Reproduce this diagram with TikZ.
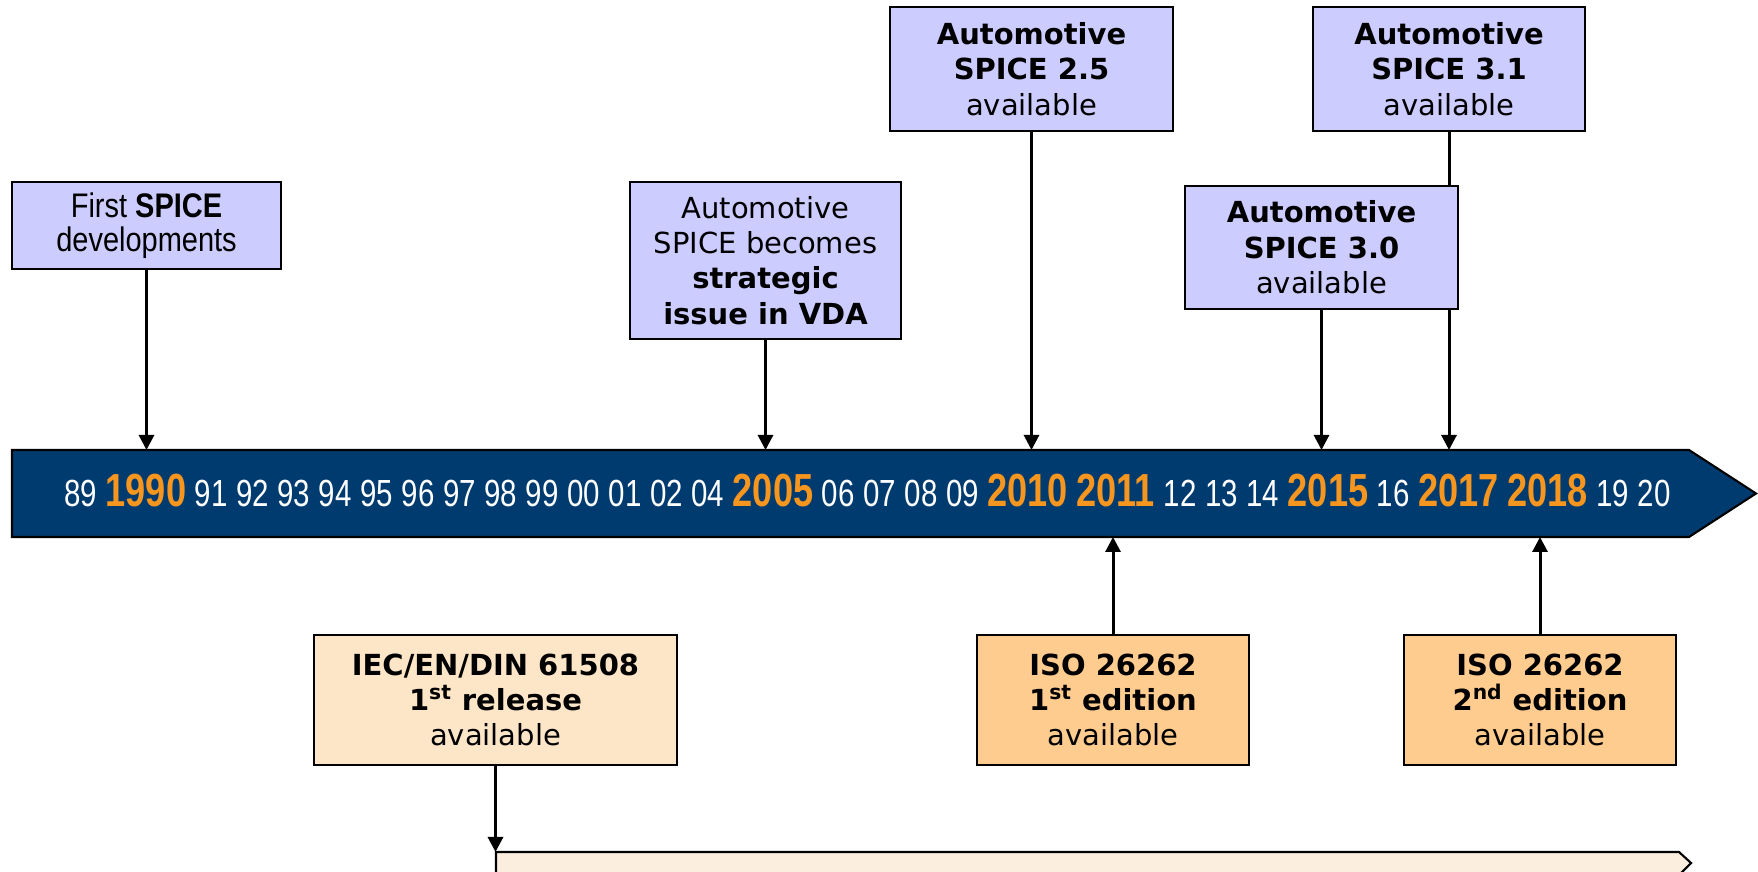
\documentclass[tikz,border=0pt]{standalone}
\usepackage{fontspec}
\setmainfont{DejaVu Sans}
\newfontfamily\arialfont[FakeStretch=0.85]{Liberation Sans}
\newfontfamily\yearfont[FakeStretch=0.78]{Liberation Sans}
\usetikzlibrary{arrows.meta}
\usetikzlibrary{positioning}

\definecolor{barblue}{RGB}{0,59,112}
\definecolor{yearorange}{RGB}{247,150,30}
\definecolor{spicebox}{RGB}{204,204,255}
\definecolor{isobox}{RGB}{255,204,144}
\definecolor{iecbox}{RGB}{253,229,200}
\definecolor{safetybar}{RGB}{252,238,223}

\tikzset{
	event/.style={draw=black, line width=1.4pt, align=center, inner sep=2pt, font=\fontsize{16.5}{20.1}\selectfont},
	spice/.style={event, fill=spicebox},
	iso/.style={event, fill=isobox},
	link/.style={line width=1.7pt, -{Triangle[length=0.3cm, width=0.3cm]}},
	yrsmall/.style={inner sep=0pt, text=white, font=\yearfont\fontsize{21.5}{22}\selectfont},
	yrbig/.style={inner sep=0pt, text=yearorange, font=\yearfont\bfseries\fontsize{26.4}{27}\selectfont},
}

\begin{document}
\begin{tikzpicture}[]
	\useasboundingbox (0,0) rectangle (35.16,17.44);

	% timeline bar
	\filldraw[fill=barblue, draw=black, line width=1.2pt] (0.24,6.7) -- (33.78,6.7) -- (35.12,7.57) -- (33.78,8.44) -- (0.24,8.44) -- cycle;
	\coordinate (bartop) at (0,8.44);
	\coordinate (barbot) at (0,6.7);

	% bar at the bottom, cut off by the page edge
	\begin{scope}
		\clip (0,0) rectangle (35.16,17.44);
		\filldraw[fill=safetybar, draw=black, line width=1.2pt] (9.92,-0.1) -- (9.92,0.4) -- (33.58,0.4) -- (33.82,0.18) -- (33.54,-0.1);
	\end{scope}
	\coordinate (lowtop) at (0,0.4);

	% years along the bar
	\node[yrsmall, anchor=base west] (y89) at (1.28,7.3) {89};
	\foreach \yr/\sz [remember=\yr as \prev (initially 89)] in {1990/big,91/small,92/small,93/small,94/small,95/small,96/small,97/small,98/small,99/small,00/small,01/small,02/small,04/small,2005/big,06/small,07/small,08/small,09/small,2010/big,2011/big,12/small,13/small,14/small,2015/big,16/small,2017/big,2018/big,19/small,20/small} {
		\node[yr\sz, base right=0.158cm of y\prev] (y\yr) {\yr};
	}

	% spice events above the bar
	\node[event, fill=spicebox, minimum width=5.38cm, minimum height=1.74cm, font=\arialfont\fontsize{19.4}{19.2}\selectfont] (first) at (2.93,12.93) {First \textbf{SPICE}\\developments};
	\node[spice, minimum width=5.42cm, minimum height=3.14cm] (vda) at (15.31,12.23) {Automotive\\SPICE becomes\\\textbf{strategic}\\\textbf{issue in VDA}};
	\node[spice, minimum width=5.66cm, minimum height=2.48cm] (spice25) at (20.63,16.06) {\textbf{Automotive}\\\textbf{SPICE 2.5}\\available};
	\node[spice, minimum width=5.44cm, minimum height=2.48cm] (spice31) at (28.98,16.06) {\textbf{Automotive}\\\textbf{SPICE 3.1}\\available};
	% 3.1 line runs behind the 3.0 box
	\draw[link] (spice31.south) -- (spice31.south |- bartop);
	\node[spice, minimum width=5.46cm, minimum height=2.46cm] (spice30) at (26.43,12.49) {\textbf{Automotive}\\\textbf{SPICE 3.0}\\available};

	% safety standards below the bar
	\node[event, fill=iecbox, minimum width=7.26cm, minimum height=2.6cm] (iec) at (9.91,3.44) {\textbf{IEC/EN/DIN 61508}\\\textbf{1\textsuperscript{st} release}\\available};
	\node[iso, minimum width=5.44cm, minimum height=2.6cm] (iso1) at (22.26,3.44) {\textbf{ISO 26262}\\\textbf{1\textsuperscript{st} edition}\\available};
	\node[iso, minimum width=5.44cm, minimum height=2.6cm] (iso2) at (30.8,3.44) {\textbf{ISO 26262}\\\textbf{2\textsuperscript{nd} edition}\\available};

	% connectors
	\foreach \ev in {first,vda,spice25,spice30} {
		\draw[link] (\ev.south) -- (\ev.south |- bartop);
	}
	\foreach \ev in {iso1,iso2} {
		\draw[link] (\ev.north) -- (\ev.north |- barbot);
	}
	\draw[link] (iec.south) -- (iec.south |- lowtop);

\end{tikzpicture}
\end{document}
